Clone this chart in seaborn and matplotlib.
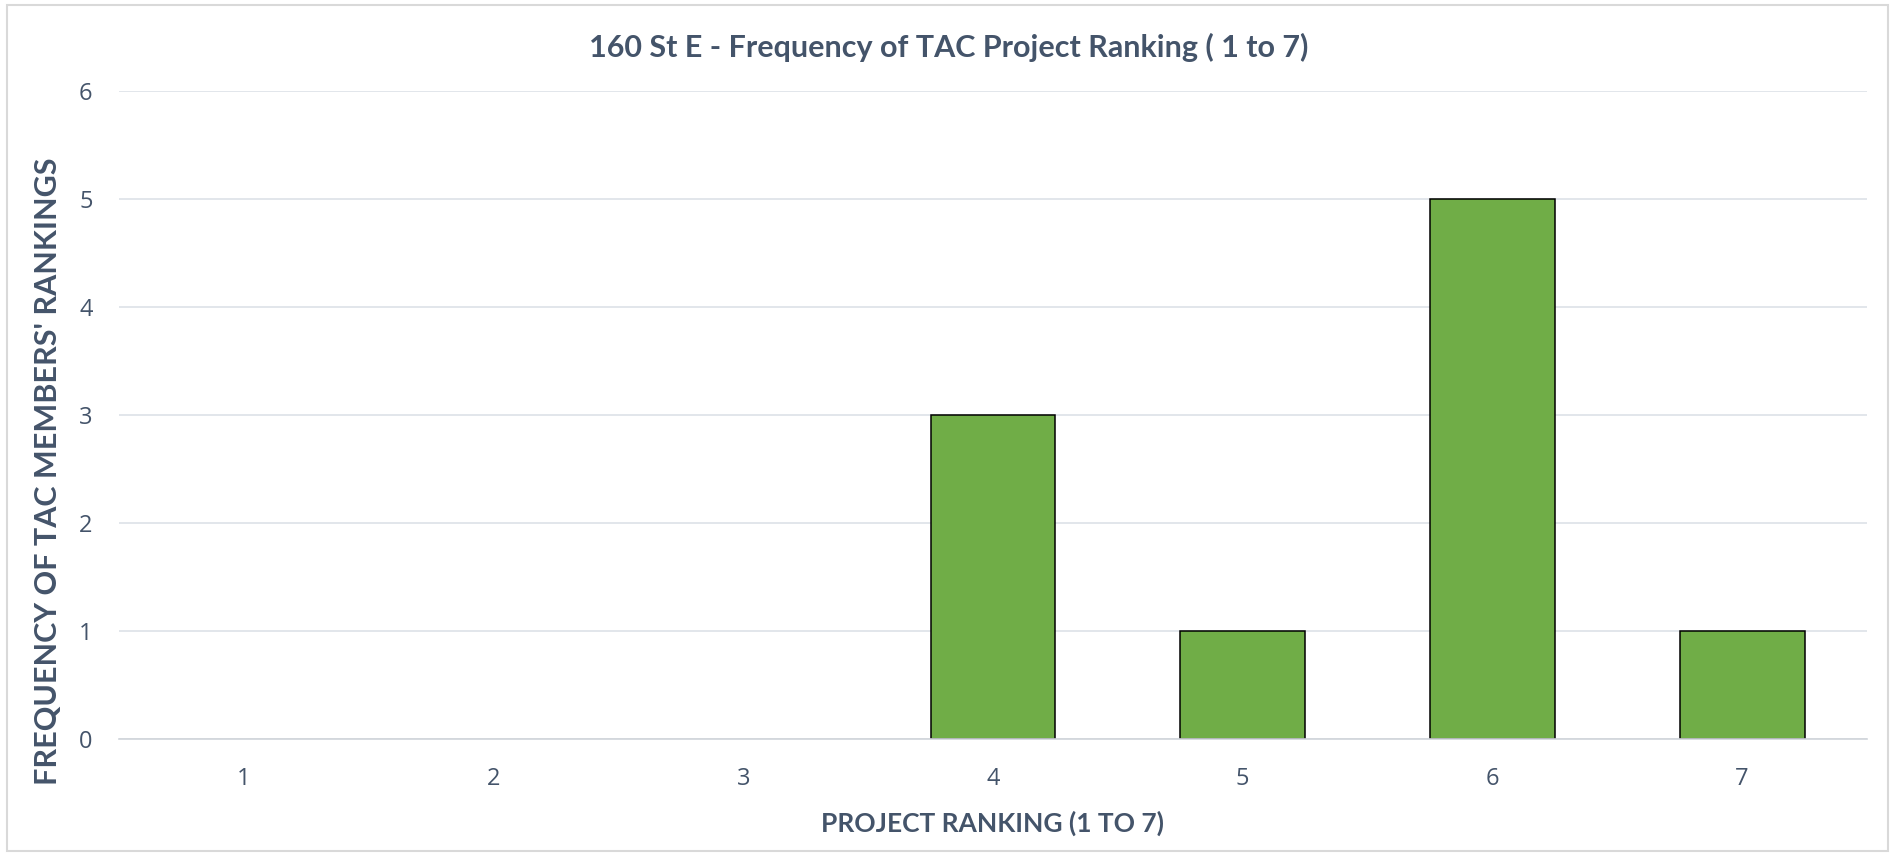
"""
plot.py - Frequency of TAC project ranking for 160 St E (bar chart).
"""

import matplotlib
matplotlib.use("Agg")  # headless

import matplotlib.pyplot as plt  # noqa: E402
import pandas as pd  # noqa: E402
import seaborn as sns  # noqa: E402
from matplotlib.patches import Rectangle  # noqa: E402

# ---------------------------------------------------------------------------
# Data
# ---------------------------------------------------------------------------
rankings = ["1", "2", "3", "4", "5", "6", "7"]
frequencies = [0, 0, 0, 3, 1, 5, 1]
y_ticks = [0, 1, 2, 3, 4, 5, 6]

title = "160 St E - Frequency of TAC Project Ranking ( 1 to 7)"
x_label = "PROJECT RANKING (1 TO 7)"
y_label = "FREQUENCY OF TAC MEMBERS' RANKINGS"

# ---------------------------------------------------------------------------
# Style
# ---------------------------------------------------------------------------
text_color = "#44546A"
bar_color = "#70AD47"
grid_color = "#DDE1E8"
narrow_font = ["Lato", "DejaVu Sans"]

sns.set_theme(style="whitegrid")
plt.rcParams["font.family"] = ["Open Sans", "DejaVu Sans"]

df = pd.DataFrame({"ranking": rankings, "frequency": frequencies})

fig = plt.figure(figsize=(18.97, 8.56), dpi=100)
ax = fig.add_axes([0.0627, 0.1367, 0.9215, 0.757])

sns.barplot(
    data=df,
    x="ranking",
    y="frequency",
    order=rankings,
    color=bar_color,
    saturation=1,
    width=0.5,
    edgecolor="black",
    linewidth=1.1,
    ax=ax,
)

# hide outline of empty (zero-height) bars
for patch in ax.patches:
    if patch.get_height() == 0:
        patch.set_linewidth(0)

ax.set_ylim(0, 6)
ax.set_yticks(y_ticks)
ax.set_axisbelow(True)
ax.grid(axis="y", color=grid_color, linewidth=1.2)
ax.grid(axis="x", visible=False)

for side in ["top", "right", "left"]:
    ax.spines[side].set_visible(False)
ax.spines["bottom"].set_color("#D0D4DA")
ax.spines["bottom"].set_linewidth(1.2)

ax.tick_params(axis="x", labelsize=17, labelcolor=text_color, pad=20, length=0)
ax.tick_params(axis="y", labelsize=17, labelcolor=text_color, pad=19, length=0)

ax.set_xlabel(x_label, fontsize=19, fontweight="bold", color=text_color,
              family=narrow_font, labelpad=14)
ax.set_ylabel(y_label, fontsize=22, fontweight="bold", color=text_color,
              family=narrow_font, va="center")
ax.yaxis.set_label_coords(-0.0406, 0.4136)

fig.suptitle(title, x=0.5, y=0.944, va="center", fontsize=22,
             fontweight="bold", color=text_color, family=narrow_font)

# light chart-area border
fig.patches.append(Rectangle((0.0037, 0.0058), 0.9916, 0.9884,
                             transform=fig.transFigure, fill=False,
                             edgecolor="#D9D9D9", linewidth=1.5))

fig.savefig("out.png", dpi=100)
plt.close(fig)
